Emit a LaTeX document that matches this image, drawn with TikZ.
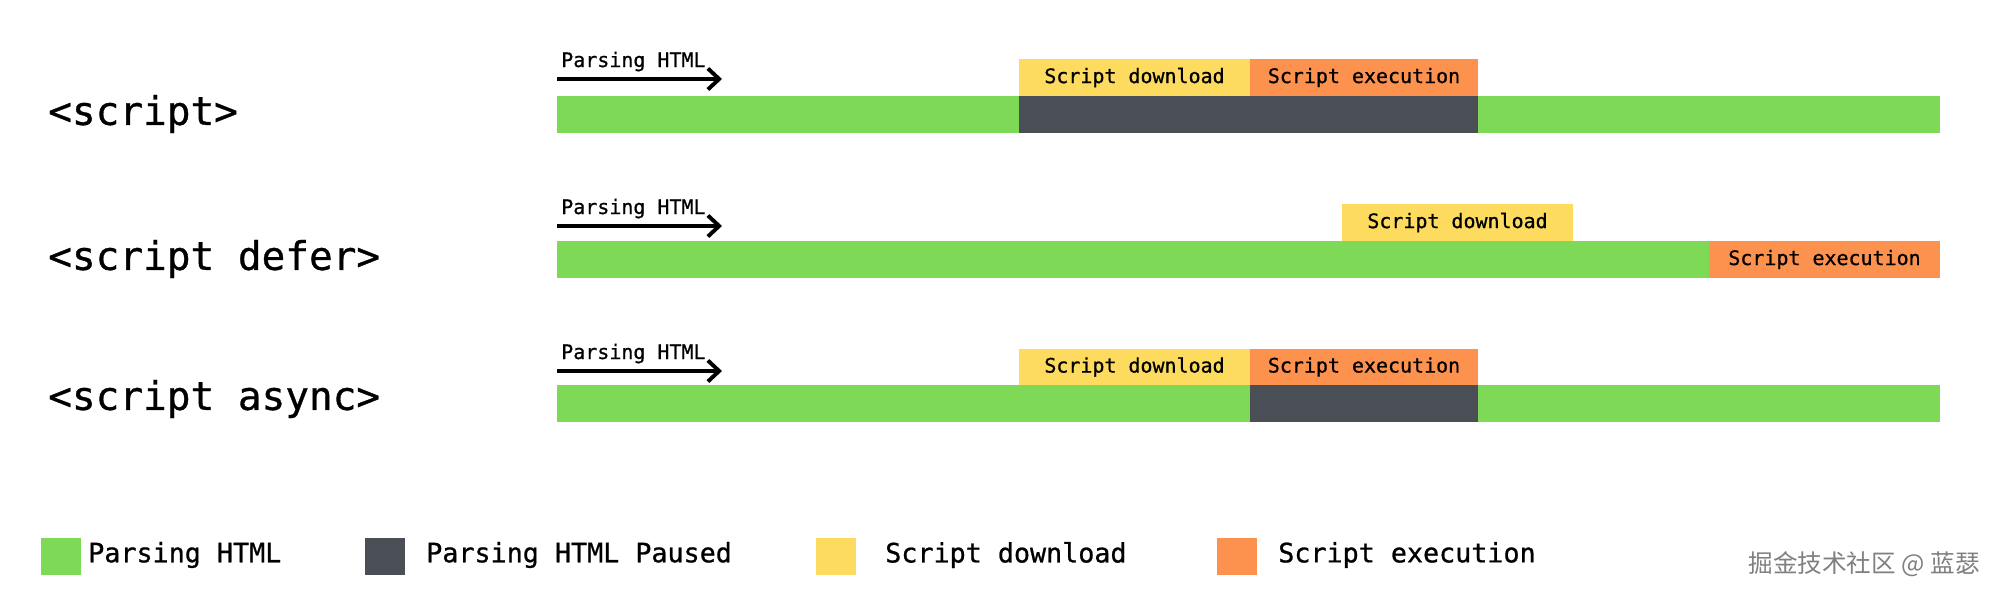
\documentclass[tikz,border=0pt]{standalone}
\usepackage{fontspec}
\setmonofont[FakeBold=0.8]{DejaVu Sans Mono}
\newfontface\monoface[FakeBold=0.8]{DejaVu Sans Mono}
\newfontfamily\cjkfont{Noto Sans CJK SC}
\usepackage{xcolor}
\usepackage{tikz}
\usetikzlibrary{arrows.meta}

\definecolor{parsegreen}{RGB}{126,217,87}
\definecolor{pausegray}{RGB}{74,79,85}
\definecolor{dlyellow}{RGB}{252,219,94}
\definecolor{exorange}{RGB}{252,146,77}

\tikzset{
  boxlabel/.style={font=\monoface\fontsize{14.2pt}{17pt}\selectfont, inner sep=0pt},
  rowlabel/.style={font=\monoface\fontsize{28pt}{32pt}\selectfont, inner sep=0pt, anchor=west},
  keylabel/.style={font=\monoface\fontsize{19pt}{22pt}\selectfont, inner sep=0pt, anchor=west},
  flow/.style={line width=2.8pt, -{Straight Barb[length=8pt, width=15pt, line width=2.8pt]}}
}

\begin{document}
\begin{tikzpicture}[x=0.025cm, y=-0.025cm]
\useasboundingbox[fill=white] (0,0) rectangle (2000,600);

% row labels
\node[rowlabel] (plain) at (48,114) {<script>};
\node[rowlabel] (defer) at (48,259) {<script defer>};
\node[rowlabel] (async) at (48,399) {<script async>};

% parsing arrows
\foreach \y/\n in {79/a,226/b,371/c} {
  \coordinate (start\n) at (557,\y);
  \coordinate (end\n) at (722,\y);
  \draw[flow] (start\n) -- (end\n);
  \node[boxlabel, anchor=base west] (parse\n) at (561,\y-12) {Parsing HTML};
}

% <script>
\fill[parsegreen] (557,96) rectangle (1940,133);
\fill[pausegray] (1019,96) rectangle (1478,133);
\fill[dlyellow] (1019,59) rectangle (1250,96);
\fill[exorange] (1250,59) rectangle (1478,96);
\node[boxlabel] (dla) at (1134.5,77.5) {Script download};
\node[boxlabel] (exa) at (1364,77.5) {Script execution};

% <script defer>
\fill[parsegreen] (557,241) rectangle (1709,278);
\fill[exorange] (1709,241) rectangle (1940,278);
\fill[dlyellow] (1342,204) rectangle (1573,241);
\node[boxlabel] (dlb) at (1457.5,222.5) {Script download};
\node[boxlabel] (exb) at (1824.5,259.5) {Script execution};

% <script async>
\fill[parsegreen] (557,385) rectangle (1940,422);
\fill[pausegray] (1250,385) rectangle (1478,422);
\fill[dlyellow] (1019,349) rectangle (1250,385);
\fill[exorange] (1250,349) rectangle (1478,385);
\node[boxlabel] (dlc) at (1134.5,367) {Script download};
\node[boxlabel] (exc) at (1364,367) {Script execution};

% legend
\foreach \x/\c/\t/\n/\lx in {41/parsegreen/Parsing HTML/ka/88, 365/pausegray/Parsing HTML Paused/kb/426, 816/dlyellow/Script download/kc/885, 1217/exorange/Script execution/kd/1278} {
  \fill[\c] (\x,538) rectangle (\x+40,575);
  \node[keylabel] (\n) at (\lx,555) {\t};
}

\node[anchor=east, inner sep=0pt, text=black!50, font=\cjkfont\fontsize{17.5pt}{20pt}\selectfont] (mark) at (1980,564) {掘金技术社区 @ 蓝瑟};
\end{tikzpicture}
\end{document}
